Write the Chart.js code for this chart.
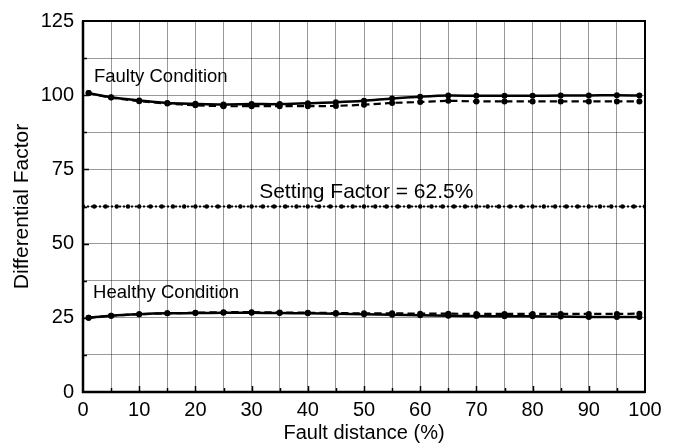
<!DOCTYPE html>
<html>
<head>
<meta charset="utf-8">
<script src="https://cdn.jsdelivr.net/npm/chart.js@4.4.0/dist/chart.umd.min.js"></script>
<style>
  body { margin: 0; background: #fff; }
  #c { display: block; }
</style>
</head>
<body>
<canvas id="c" width="675" height="446"></canvas>
<script>
// fault distance (%) where the points were taken
const faultDist = [1, 5, 10, 15, 20, 25, 30, 35, 40, 45, 50, 55, 60, 65, 70, 75, 80, 85, 90, 95, 99];

// faulty condition
const faultySolid  = [100.7, 99.3, 98.2, 97.4, 97.1, 96.9, 97.0, 97.0, 97.3, 97.6, 98.1, 98.9, 99.5, 99.9, 99.8, 99.8, 99.8, 99.9, 99.9, 100.0, 99.9];
const faultyDashed = [100.7, 99.2, 98.0, 97.2, 96.6, 96.3, 96.3, 96.3, 96.3, 96.4, 96.8, 97.4, 97.7, 98.1, 97.9, 97.9, 97.9, 97.9, 97.9, 97.9, 97.9];

// healthy condition
const healthySolid  = [25.0, 25.7, 26.2, 26.5, 26.6, 26.7, 26.7, 26.6, 26.5, 26.4, 26.2, 26.0, 25.9, 25.7, 25.6, 25.5, 25.5, 25.4, 25.3, 25.3, 25.3];
const healthyDashed = [25.0, 25.7, 26.2, 26.5, 26.7, 26.9, 26.9, 26.8, 26.7, 26.6, 26.5, 26.5, 26.4, 26.4, 26.3, 26.3, 26.3, 26.3, 26.3, 26.3, 26.4];

// setting factor line
const settingX = [0, 2, 4, 6, 8, 10, 12, 14, 16, 18, 20, 22, 24, 26, 28, 30, 32, 34, 36, 38, 40, 42, 44, 46, 48, 50,
                  52, 54, 56, 58, 60, 62, 64, 66, 68, 70, 72, 74, 76, 78, 80, 82, 84, 86, 88, 90, 92, 94, 96, 98, 100];
const settingFactor = 62.5;

// text labels inside the plot
const notes = [
  { text: 'Faulty Condition', x: 1.95, y: 104.3, align: 'left', size: 18.5 },
  { text: 'Setting Factor = 62.5%', x: 50.4, y: 65.3, align: 'center', size: 21 },
  { text: 'Healthy Condition', x: 1.8, y: 31.7, align: 'left', size: 18.5 }
];

const FONT = '"Liberation Sans", Arial, sans-serif';

function pts(xs, ys) {
  return xs.map((x, i) => ({ x: x, y: ys[i] }));
}

// frame + inward ticks + text labels
const decorPlugin = {
  id: 'decor',
  afterDatasetsDraw(chart) {
    const ctx = chart.ctx;
    const a = chart.chartArea;
    const xs = chart.scales.x, ys = chart.scales.y;
    ctx.save();
    ctx.strokeStyle = '#000';
    // inward ticks
    ctx.lineWidth = 1.5;
    for (let v = 12.5; v < 125; v += 12.5) {
      const py = Math.round(ys.getPixelForValue(v)) + 0.5;
      const len = (v % 25 === 0) ? 6 : 4;
      ctx.beginPath(); ctx.moveTo(a.left, py); ctx.lineTo(a.left + len, py); ctx.stroke();
    }
    for (let v = 5; v < 100; v += 5) {
      const px = Math.round(xs.getPixelForValue(v)) + 0.5;
      const len = (v % 10 === 0) ? 6 : 4;
      ctx.beginPath(); ctx.moveTo(px, a.bottom); ctx.lineTo(px, a.bottom - len); ctx.stroke();
    }
    // frame
    ctx.lineWidth = 2;
    ctx.strokeRect(a.left, a.top, a.right - a.left, a.bottom - a.top);
    ctx.lineWidth = 2.5;
    ctx.beginPath(); ctx.moveTo(a.left, a.top); ctx.lineTo(a.left, a.bottom); ctx.lineTo(a.right, a.bottom); ctx.stroke();
    // labels
    ctx.fillStyle = '#000';
    ctx.textBaseline = 'alphabetic';
    notes.forEach(n => {
      ctx.font = n.size + 'px ' + FONT;
      ctx.textAlign = n.align;
      ctx.fillText(n.text, xs.getPixelForValue(n.x), ys.getPixelForValue(n.y));
    });
    ctx.restore();
  }
};

new Chart(document.getElementById('c').getContext('2d'), {
  type: 'scatter',
  data: {
    datasets: [
      {
        label: 'Setting factor',
        data: settingX.map(x => ({ x: x, y: settingFactor })),
        showLine: true,
        borderColor: '#000',
        backgroundColor: '#000',
        borderWidth: 2,
        borderDash: [2, 2],
        pointRadius: 2.2,
        pointBorderWidth: 0
      },
      {
        label: 'Faulty solid',
        data: pts(faultDist, faultySolid),
        showLine: true,
        borderColor: '#000',
        backgroundColor: '#000',
        borderWidth: 2.5,
        pointRadius: 3,
        pointBorderWidth: 0,
        tension: 0.3
      },
      {
        label: 'Faulty dashed',
        data: pts(faultDist, faultyDashed),
        showLine: true,
        borderColor: '#000',
        backgroundColor: '#000',
        borderWidth: 2.2,
        borderDash: [7, 4],
        pointRadius: 3,
        pointBorderWidth: 0,
        tension: 0.3
      },
      {
        label: 'Healthy solid',
        data: pts(faultDist, healthySolid),
        showLine: true,
        borderColor: '#000',
        backgroundColor: '#000',
        borderWidth: 2.5,
        pointRadius: 3,
        pointBorderWidth: 0,
        tension: 0.3
      },
      {
        label: 'Healthy dashed',
        data: pts(faultDist, healthyDashed),
        showLine: true,
        borderColor: '#000',
        backgroundColor: '#000',
        borderWidth: 2.2,
        borderDash: [7, 4],
        pointRadius: 3,
        pointBorderWidth: 0,
        tension: 0.3
      }
    ]
  },
  options: {
    responsive: false,
    devicePixelRatio: 1,
    animation: false,
    layout: { padding: { top: 14, right: 30, left: 0, bottom: 0 } },
    plugins: { legend: { display: false }, tooltip: { enabled: false } },
    scales: {
      x: {
        type: 'linear',
        min: 0, max: 100,
        afterFit(scale) { scale.height = 54; },
        grid: { color: 'rgba(0,0,0,0.4)', lineWidth: 1, drawTicks: false },
        border: { display: false },
        ticks: {
          stepSize: 5,
          autoSkip: false,
          maxRotation: 0,
          padding: 6,
          color: '#000',
          font: { family: FONT, size: 20 },
          callback: v => (v % 10 === 0 ? v : '')
        },
        title: {
          display: true,
          text: 'Fault distance (%)',
          color: '#000',
          font: { family: FONT, size: 20 },
          padding: { top: 0, bottom: 1 }
        }
      },
      y: {
        type: 'linear',
        min: 0, max: 125,
        afterFit(scale) { scale.width = 83; },
        grid: { color: 'rgba(0,0,0,0.4)', lineWidth: 1, drawTicks: false },
        border: { display: false },
        ticks: {
          stepSize: 12.5,
          autoSkip: false,
          padding: 9,
          color: '#000',
          font: { family: FONT, size: 20 },
          callback: v => (v % 25 === 0 ? v : '')
        },
        title: {
          display: true,
          text: 'Differential Factor',
          color: '#000',
          font: { family: FONT, size: 21 },
          padding: { top: 10, bottom: 0 }
        }
      }
    }
  },
  plugins: [decorPlugin]
});
</script>
</body>
</html>
